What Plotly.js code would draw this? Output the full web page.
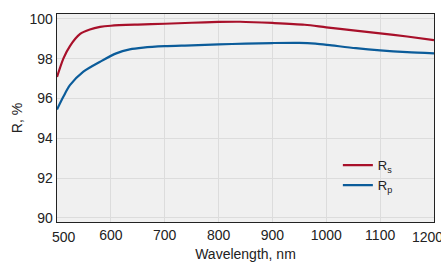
<!DOCTYPE html>
<html><head><meta charset="utf-8">
<script src="https://cdn.plot.ly/plotly-3.0.1.min.js"></script>
<style>html,body{margin:0;padding:0;background:#fff}#c{width:441px;height:262px}</style>
</head><body><div id="c"></div>
<script>
const wavelengthS = [500, 512, 524, 543, 561, 580, 600, 650, 700, 750, 800, 840, 900, 960, 1000, 1050, 1100, 1150, 1200];
const rS = [97.08, 98.02, 98.64, 99.25, 99.47, 99.6, 99.66, 99.72, 99.76, 99.81, 99.85, 99.86, 99.8, 99.71, 99.58, 99.43, 99.28, 99.12, 98.94];
const wavelengthP = [500, 512, 524, 549, 580, 610, 635, 660, 700, 750, 800, 850, 900, 950, 980, 1010, 1055, 1100, 1150, 1200];
const rP = [95.45, 96.1, 96.67, 97.35, 97.85, 98.27, 98.47, 98.56, 98.63, 98.67, 98.72, 98.76, 98.79, 98.8, 98.76, 98.67, 98.53, 98.42, 98.33, 98.27];
const seriesNames = ["R<sub>s</sub>", "R<sub>p</sub>"];
const xTicks = [500, 600, 700, 800, 900, 1000, 1100, 1200];
const yTicks = [90, 92, 94, 96, 98, 100];

const fam = "Liberation Sans, Arial, sans-serif";
const font = {family: fam, size: 14, color: "#222"};
const data = [
  {x: wavelengthS, y: rS, name: seriesNames[0], mode: "lines", line: {color: "#a8102a", width: 2.2, shape: "spline", smoothing: 0.8}},
  {x: wavelengthP, y: rP, name: seriesNames[1], mode: "lines", line: {color: "#0b5c9a", width: 2.2, shape: "spline", smoothing: 0.8}}
];
// edge tick labels are nudged inward in the reference
const edgeAnn = [
  {x: xTicks[0], xshift: 7, text: String(xTicks[0])},
  {x: xTicks[xTicks.length - 1], xshift: -7, text: String(xTicks[xTicks.length - 1])}
].map(a => Object.assign({xref: "x", yref: "paper", y: 0, yanchor: "top", yshift: -5, showarrow: false, font: font}, a));

const layout = {
  width: 441, height: 262,
  margin: {l: 57, r: 7, t: 14, b: 40},
  paper_bgcolor: "#ffffff", plot_bgcolor: "#f0f0f0",
  font: font,
  showlegend: true,
  legend: {x: 0.745, y: 0.345, xanchor: "left", yanchor: "top", bgcolor: "rgba(0,0,0,0)", font: {family: fam, size: 13, color: "#222"}, tracegroupgap: 0},
  annotations: edgeAnn,
  xaxis: {
    range: [500, 1200], tickvals: xTicks, ticktext: xTicks.map((v, i) => (i === 0 || i === xTicks.length - 1) ? " " : String(v)),
    showgrid: true, gridcolor: "#dcdcdc", gridwidth: 1,
    showline: true, linecolor: "#222", linewidth: 1.3, mirror: true,
    ticks: "", zeroline: false,
    title: {text: "Wavelength, nm", font: font, standoff: 11}
  },
  yaxis: {
    range: [89.79, 100.25], tickvals: yTicks, ticktext: yTicks.map(String),
    showgrid: true, gridcolor: "#dcdcdc", gridwidth: 1,
    showline: true, linecolor: "#222", linewidth: 1.3, mirror: true,
    ticks: "", zeroline: false,
    title: {text: "R, %", font: font, standoff: 3}
  }
};
Plotly.newPlot("c", data, layout, {displayModeBar: false, staticPlot: true});
</script></body></html>
